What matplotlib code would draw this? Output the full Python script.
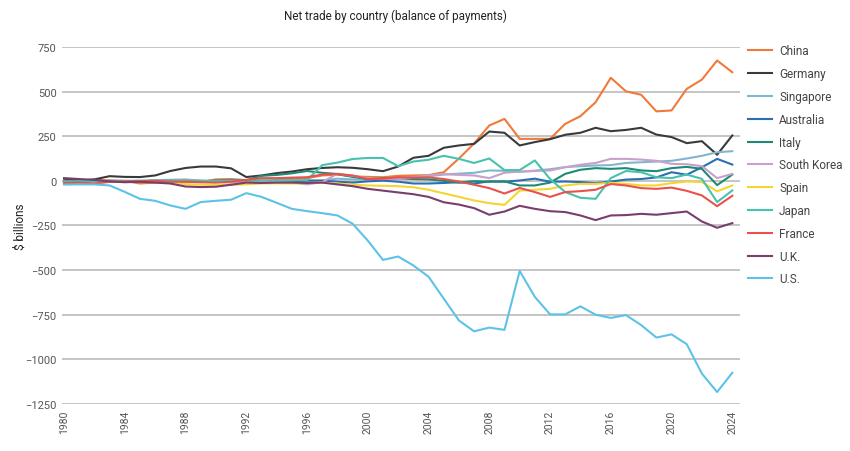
import numpy as np
import matplotlib
matplotlib.use("Agg")
import matplotlib.pyplot as plt

plt.rcParams['font.family'] = ['Roboto', 'DejaVu Sans']

years = np.arange(1980, 2025)

china = [-2, 3, 5, 2, -1, -15, -10, -3, -5, -7, 8, 10, 4, -12, 5, 12, 15, 30, 35, 25,
         22, 20, 28, 30, 32, 48, 125, 209, 310, 347, 235, 235, 235, 319, 362, 440, 577, 501, 482, 389,
         394, 515, 567, 674, 608]
germany = [12, 2, 8, 26, 22, 21, 30, 55, 72, 80, 80, 70, 21, 30, 43, 52, 65, 72, 76, 73,
           65, 54, 80, 129, 140, 185, 198, 207, 276, 269, 198, 217, 233, 258, 269, 297, 278, 285, 297, 259,
           245, 211, 222, 146, 254]
singapore = [-5, -7, -8, -6, -4, -3, -3, -3, -2, -2, -4, -3, -4, -4, 1, 2, 1, 2, 12, 8,
             8, 10, 12, 21, 25, 35, 40, 45, 58, 56, 50, 57, 65, 77, 82, 86, 88, 100, 104, 108,
             112, 125, 140, 160, 166]
australia = [-2, -5, -5, 0, -1, -1, -2, 0, 0, -4, 1, 3, 2, 0, -4, -3, 1, 1, -5, -10,
             -3, 1, -5, -15, -15, -12, -8, -15, -3, -5, 2, 12, -5, -4, -7, -13, -4, 7, 10, 19,
             48, 34, 76, 123, 91]
italy = [-15, -10, -8, -2, -5, -6, 3, 0, 0, -2, 0, -1, 3, 28, 33, 42, 55, 45, 38, 22,
         10, 14, 14, 10, 8, 0, -10, -2, -5, -3, -26, -26, -10, 39, 62, 71, 67, 71, 58, 54,
         71, 78, 67, -24, 35]
south_korea = [-5, -5, -3, -2, 0, 0, 4, 6, 8, 1, -5, -10, -5, -1, -6, -10, -20, -8, 40, 28,
               15, 10, 12, 20, 30, 38, 33, 30, 15, 45, 52, 55, 58, 76, 90, 100, 123, 123, 119, 112,
               95, 93, 82, 15, 39]
spain = [-10, -10, -9, -6, -1, -2, -6, -13, -18, -22, -22, -22, -20, -15, -14, -15, -12, -10, -15, -22,
         -26, -28, -30, -36, -50, -70, -90, -110, -125, -135, -55, -50, -45, -26, -17, -17, -11, -17, -26, -26,
         -13, -4, -7, -59, -26]
japan = [-5, -2, -3, -2, -1, 0, 2, 3, 2, 1, 0, 1, 2, 3, 4, 3, 3, 88, 102, 122,
         128, 128, 82, 108, 118, 140, 123, 100, 125, 60, 60, 114, 10, -63, -95, -101, 15, 55, 48, 20,
         15, 35, 11, -119, -54]
france = [-12, -10, -15, -6, -3, -3, 0, -5, -5, -8, -10, -5, 5, 15, 15, 18, 20, 35, 38, 30,
          10, 12, 20, 18, 19, 10, -4, -22, -41, -71, -40, -63, -90, -63, -58, -50, -18, -26, -41, -45,
          -38, -56, -82, -142, -84]
uk = [15, 10, 5, -3, -8, -5, -10, -15, -32, -35, -33, -22, -10, -12, -10, -10, -12, -10, -20, -30,
      -45, -55, -65, -75, -90, -120, -133, -153, -190, -172, -140, -157, -170, -175, -194, -220, -194, -192, -185, -190,
      -181, -172, -228, -263, -237]
us = [-21, -20, -20, -26, -62, -101, -112, -138, -157, -119, -112, -106, -69, -90, -123, -157, -170, -181, -194, -240,
      -335, -443, -424, -474, -537, -660, -782, -843, -822, -835, -505, -650, -748, -748, -703, -750, -768, -752, -808, -878,
      -860, -915, -1080, -1183, -1075]

names = ["China", "Germany", "Singapore", "Australia", "Italy", "South Korea",
         "Spain", "Japan", "France", "U.K.", "U.S."]
series = [china, germany, singapore, australia, italy, south_korea,
          spain, japan, france, uk, us]
colors = ["#f07a3a", "#3a3a3c", "#82b6cf", "#2a6fb3", "#1f8a74", "#c7a1c9",
          "#f6d531", "#47c2ae", "#e7524d", "#7a3e6d", "#5cc3e6"]

fig = plt.figure(figsize=(8.5, 4.52), dpi=100)
ax = fig.add_axes([0.073, 0.104, 0.798, 0.79])

for name, vals, c in zip(names, series, colors):
    ax.plot(years, vals, color=c, lw=1.5, label=name)

ax.set_ylim(-1250, 750)
ax.set_xlim(1979.87, 2024.53)
ax.set_yticks(np.arange(-1250, 751, 250))
ax.set_xticks(np.arange(1980, 2025, 4))
ax.tick_params(axis='x', rotation=90, labelsize=7.5, colors="#555555", length=0, pad=4)
ax.tick_params(axis='y', labelsize=8, colors="#555555", length=0, pad=4)
ax.grid(axis='y', color="#b5b5b5", lw=1.1)
ax.set_axisbelow(True)
for s in ax.spines.values():
    s.set_visible(False)

ax.set_ylabel("$ billions", fontsize=8.5, color="#222222")
ax.yaxis.set_label_coords(-0.052, 0.5)
fig.text(0.465, 0.965, "Net trade by country (balance of payments)", ha="center", va="center",
         fontsize=8.4, color="#222222")

leg = ax.legend(loc="upper left", bbox_to_anchor=(1.005, 1.02), frameon=False,
                fontsize=8.5, handlelength=2.0, labelspacing=0.83, handletextpad=0.6,
                borderaxespad=0)
for t in leg.get_texts():
    t.set_color("#444444")

fig.savefig("out.png", dpi=100)
